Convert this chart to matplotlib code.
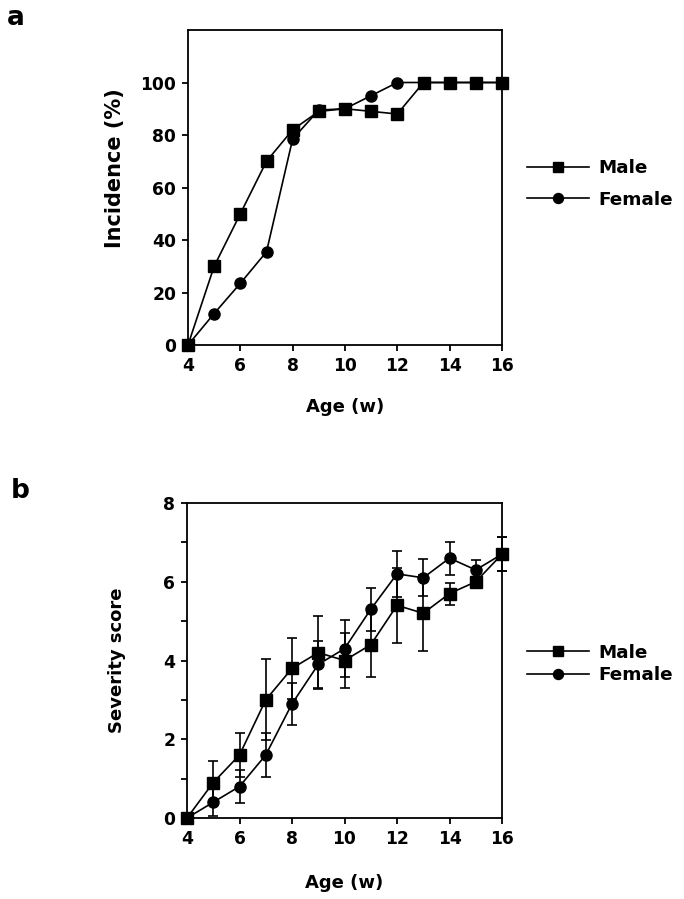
import matplotlib
matplotlib.use("Agg")
import matplotlib.pyplot as plt
from matplotlib.ticker import MultipleLocator

plt.rcParams['font.family'] = ['DejaVu Sans']
plt.rcParams['font.weight'] = 'bold'

# ---- data ----
weeks = [4, 5, 6, 7, 8, 9, 10, 11, 12, 13, 14, 15, 16]

incidence_male = [0, 30, 50, 70, 82, 89, 90, 89, 88, 100, 100, 100, 100]
incidence_female = [0, 12, 23.5, 35.5, 78.5, 89.5, 90, 95, 100, 100, 100, 100, 100]

severity_male = [0, 0.9, 1.6, 3.0, 3.8, 4.2, 4.0, 4.4, 5.4, 5.2, 5.7, 6.0, 6.7]
severity_male_err = [0, 0.55, 0.55, 1.03, 0.77, 0.93, 0.7, 0.81, 0.95, 0.97, 0.28, 0.1, 0.43]
severity_female = [0, 0.4, 0.8, 1.6, 2.9, 3.9, 4.3, 5.3, 6.2, 6.1, 6.6, 6.3, 6.7]
severity_female_err = [0, 0.36, 0.41, 0.57, 0.53, 0.6, 0.72, 0.55, 0.59, 0.47, 0.42, 0.26, 0.43]

xticks = [4, 6, 8, 10, 12, 14, 16]
labels = ["Male", "Female"]

W, H = 684, 899
fig = plt.figure(figsize=(W / 100, H / 100), dpi=100)

def px_axes(left, top, right, bottom):
    return fig.add_axes([left / W, 1 - bottom / H, (right - left) / W, (bottom - top) / H])

TFS = 12.3   # tick labels
LFS = 13     # axis labels
GFS = 13.2   # legend
LW = 1.2
MS = 8

def style(ax):
    for s in ax.spines.values():
        s.set_linewidth(1.3)
    ax.tick_params(direction='out', length=4.5, width=1.3, labelsize=TFS, pad=4)
    ax.set_xlim(4, 16)
    ax.set_xticks(xticks)
    for lab in ax.get_xticklabels() + ax.get_yticklabels():
        lab.set_fontweight('bold')

# ---- panel a ----
ax1 = px_axes(188, 30, 502, 345)
l1f, = ax1.plot(weeks, incidence_female, '-o', color='black', lw=LW, ms=MS, clip_on=False, zorder=3)
l1m, = ax1.plot(weeks, incidence_male, '-s', color='black', lw=LW, ms=MS, clip_on=False, zorder=4)
style(ax1)
ax1.set_ylim(0, 120)
ax1.set_yticks([0, 20, 40, 60, 80, 100])
ax1.set_xlabel("Age (w)", fontsize=LFS, fontweight='bold', labelpad=17)
ax1.set_ylabel("Incidence (%)", fontsize=15, fontweight='bold')
ax1.yaxis.set_label_coords(-0.2, 0.56)
ax1.legend([l1m, l1f], labels, loc='center left', bbox_to_anchor=(527 / W, 1 - 184 / H),
           bbox_transform=fig.transFigure, frameon=False, handlelength=3.4,
           handletextpad=0.5, labelspacing=0.75, borderpad=0, borderaxespad=0,
           numpoints=1, markerscale=0.9, prop={'weight': 'bold', 'size': GFS})
fig.text(7 / W, 1 - 25 / H, "a", fontsize=19, fontweight='bold', ha='left', va='baseline')

# ---- panel b ----
ax2 = px_axes(187, 503, 502, 818)
e2f = ax2.errorbar(weeks, severity_female, yerr=severity_female_err, fmt='-o', color='black',
                   lw=LW, ms=MS, elinewidth=LW, capsize=3.6, capthick=LW, clip_on=False, zorder=3)
e2m = ax2.errorbar(weeks, severity_male, yerr=severity_male_err, fmt='-s', color='black',
                   lw=LW, ms=MS, elinewidth=LW, capsize=3.6, capthick=LW, clip_on=False, zorder=4)
for cont in (e2f, e2m):
    for art in cont.get_children():
        art.set_clip_on(False)
style(ax2)
ax2.set_ylim(0, 8)
ax2.set_yticks([0, 2, 4, 6, 8])
ax2.yaxis.set_minor_locator(MultipleLocator(1))
ax2.tick_params(axis='y', which='minor', direction='out', length=4.5, width=1.3)
ax2.set_xlabel("Age (w)", fontsize=LFS, fontweight='bold', labelpad=19)
ax2.set_ylabel("Severity score", fontsize=LFS, fontweight='bold')
ax2.yaxis.set_label_coords(-0.194, 0.5)
ax2.legend([e2m.lines[0], e2f.lines[0]], labels, loc='center left', bbox_to_anchor=(527 / W, 1 - 664 / H),
           bbox_transform=fig.transFigure, frameon=False, handlelength=3.4,
           handletextpad=0.5, labelspacing=0.25, borderpad=0, borderaxespad=0,
           numpoints=1, markerscale=0.9, prop={'weight': 'bold', 'size': GFS})
fig.text(11 / W, 1 - 498 / H, "b", fontsize=19, fontweight='bold', ha='left', va='baseline')

fig.savefig("out.png", dpi=100)
